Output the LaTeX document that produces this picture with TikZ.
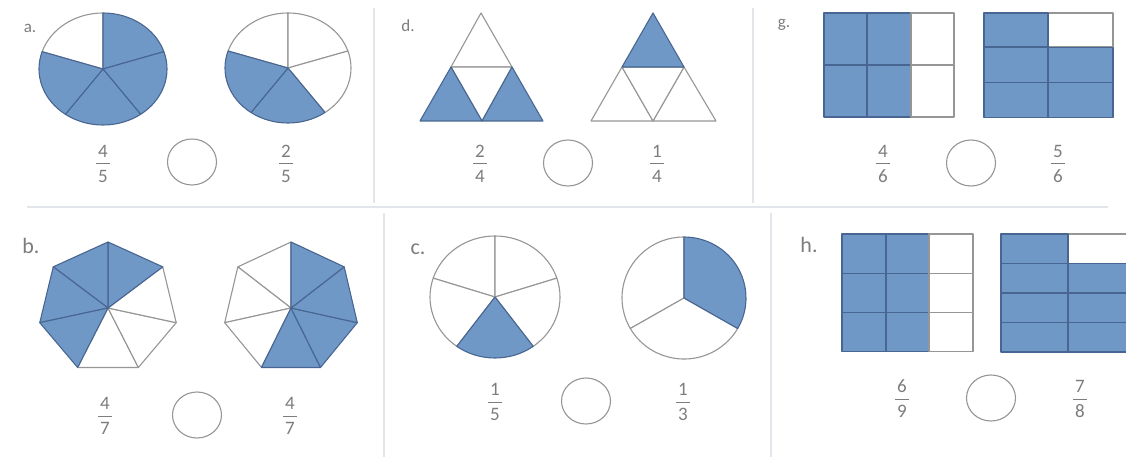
\documentclass[tikz,border=0pt]{standalone}
\usepackage{fontspec}
\setmainfont{Carlito}
\usetikzlibrary{shapes.geometric}
\definecolor{blueF}{RGB}{112,152,199}
\definecolor{blueD}{RGB}{72,102,145}
\definecolor{lineG}{RGB}{150,150,150}
\definecolor{txtG}{RGB}{125,125,125}
\definecolor{sepG}{RGB}{226,230,234}
\tikzset{
  wpart/.style={fill=white,draw=lineG,line width=1.1pt,line join=round},
  bpart/.style={fill=blueF,draw=blueD,line width=1.1pt,line join=round},
  sepline/.style={draw=sepG,line width=2pt},
  lbl/.style={text=txtG,font=\fontsize{17}{20}\selectfont,inner sep=0pt},
  lblb/.style={text=txtG,font=\fontsize{22}{26}\selectfont,inner sep=0pt},
  frnum/.style={text=txtG,font=\fontsize{19}{22}\selectfont,inner sep=0pt},
  frbar/.style={draw=txtG,line width=1pt},
  cmp/.style={ellipse,draw=lineG,line width=1.1pt,inner sep=0pt,minimum width=49pt,minimum height=46pt}
}
% style, cx, cy, rx, ry, start angle, end angle
\newcommand\pslice[7]{\path[#1] (#2,#3) -- ++(#6:#4pt and #5pt) arc[start angle=#6,end angle=#7,x radius=#4pt,y radius=#5pt] -- cycle;}
% name, x, y, numerator, denominator
\newcommand\fracat[5]{%
  \node[frnum] (#1n) at (#2,#3+12.5) {#4};
  \draw[frbar] (#2-7,#3) -- (#2+7,#3);
  \node[frnum] (#1d) at (#2,#3-12.5) {#5};}
\begin{document}
\begin{tikzpicture}[x=1pt,y=1pt]
\useasboundingbox (0,0) rectangle (1126,-457);
\fill[white] (0,0) rectangle (1126,-457);
% separators
\draw[sepline] (27,-207) -- (1108,-207);
\draw[sepline] (374,-8) -- (374,-203);
\draw[sepline] (753,-8) -- (753,-203);
\draw[sepline] (384,-213) -- (384,-457);
\draw[sepline] (771,-213) -- (771,-457);

% ===== a =====
\node[lbl] (la) at (30,-28) {a.};
\pslice{wpart}{103}{-69}{64}{56}{90}{162}
\pslice{bpart}{103}{-69}{64}{56}{18}{90}
\pslice{bpart}{103}{-69}{64}{56}{-54}{18}
\pslice{bpart}{103}{-69}{64}{56}{-126}{-54}
\pslice{bpart}{103}{-69}{64}{56}{162}{234}
\pslice{wpart}{288}{-68}{63}{55}{90}{162}
\pslice{wpart}{288}{-68}{63}{55}{18}{90}
\pslice{wpart}{288}{-68}{63}{55}{-54}{18}
\pslice{bpart}{288}{-68}{63}{55}{-126}{-54}
\pslice{bpart}{288}{-68}{63}{55}{162}{234}
\fracat{fa1}{103}{-164}{4}{5}
\node[cmp] (ca) at (192,-162) {};
\fracat{fa2}{286}{-164}{2}{5}

% ===== d =====
\node[lbl] (ld) at (408,-26) {d.};
\path[wpart] (481,-13) -- (512,-67) -- (451,-67) -- cycle;
\path[wpart] (451,-67) -- (512,-67) -- (482,-121) -- cycle;
\path[bpart] (451,-67) -- (482,-121) -- (420,-121) -- cycle;
\path[bpart] (512,-67) -- (543,-121) -- (482,-121) -- cycle;
\path[wpart] (622,-67) -- (653,-121) -- (591,-121) -- cycle;
\path[wpart] (684,-67) -- (716,-121) -- (653,-121) -- cycle;
\path[wpart] (622,-67) -- (684,-67) -- (653,-121) -- cycle;
\path[bpart] (653,-13) -- (684,-67) -- (622,-67) -- cycle;
\fracat{fd1}{480}{-164}{2}{4}
\node[cmp] (cd) at (568,-163) {};
\fracat{fd2}{657}{-164}{1}{4}

% ===== g =====
\node[lbl] (lg) at (784,-25) {g.};
\foreach \r in {0,1}{
  \path[bpart] (824,-13-52*\r) rectangle (867,-65-52*\r);
  \path[bpart] (867,-13-52*\r) rectangle (911,-65-52*\r);
  \path[wpart] (911,-13-52*\r) rectangle (954,-65-52*\r);
}
\path[wpart] (1048,-13) rectangle (1113,-47);
\path[bpart] (984,-13) rectangle (1048,-47);
\foreach \r in {1,2}{
  \path[bpart] (984,-13-34.7*\r) rectangle (1048,-47.7-34.7*\r);
  \path[bpart] (1048,-13-34.7*\r) rectangle (1113,-47.7-34.7*\r);
}
\fracat{fg1}{883}{-164}{4}{6}
\node[cmp] (cg) at (971,-163) {};
\fracat{fg2}{1058}{-164}{5}{6}

% ===== b =====
\node[lblb] (lb) at (31,-246) {b.};
\foreach \k in {3,4,5}{
  \path[wpart] (108,-308) -- +(90+51.4286*\k:70pt and 66pt) -- +(90+51.4286*\k+51.4286:70pt and 66pt) -- cycle;
}
\foreach \k in {-1,0,1,2}{
  \path[bpart] (108,-308) -- +(90+51.4286*\k:70pt and 66pt) -- +(90+51.4286*\k+51.4286:70pt and 66pt) -- cycle;
}
\foreach \k in {0,1,2}{
  \path[wpart] (291,-308) -- +(90+51.4286*\k:68pt and 66pt) -- +(90+51.4286*\k+51.4286:68pt and 66pt) -- cycle;
}
\foreach \k in {3,4,5,6}{
  \path[bpart] (291,-308) -- +(90+51.4286*\k:68pt and 66pt) -- +(90+51.4286*\k+51.4286:68pt and 66pt) -- cycle;
}
\fracat{fb1}{105}{-416}{4}{7}
\node[cmp] (cb) at (197,-415) {};
\fracat{fb2}{290}{-416}{4}{7}

% ===== c =====
\node[lblb] (lc) at (418,-249) {c.};
\pslice{wpart}{495}{-297}{65}{61}{90}{162}
\pslice{wpart}{495}{-297}{65}{61}{18}{90}
\pslice{wpart}{495}{-297}{65}{61}{-54}{18}
\pslice{wpart}{495}{-297}{65}{61}{162}{234}
\pslice{bpart}{495}{-297}{65}{61}{-126}{-54}
\pslice{wpart}{684}{-298}{62}{61}{90}{210}
\pslice{wpart}{684}{-298}{62}{61}{210}{330}
\pslice{bpart}{684}{-298}{62}{61}{-30}{90}
\fracat{fc1}{495}{-402}{1}{5}
\node[cmp] (cc) at (586,-401) {};
\fracat{fc2}{683}{-402}{1}{3}

% ===== h =====
\node[lblb] (lh) at (809,-245) {h.};
\foreach \r in {0,1,2}{
  \path[bpart] (842,-234-39.3*\r) rectangle (886,-273.3-39.3*\r);
  \path[bpart] (886,-234-39.3*\r) rectangle (929,-273.3-39.3*\r);
  \path[wpart] (929,-234-39.3*\r) rectangle (973,-273.3-39.3*\r);
}
\path[wpart] (1068,-234) rectangle (1136,-263.5);
\path[bpart] (1001,-234) rectangle (1068,-263.5);
\foreach \r in {1,2,3}{
  \path[bpart] (1001,-234-29.5*\r) rectangle (1068,-263.5-29.5*\r);
  \path[bpart] (1068,-234-29.5*\r) rectangle (1136,-263.5-29.5*\r);
}
\fracat{fh1}{902}{-399}{6}{9}
\node[cmp] (ch) at (991,-398) {};
\fracat{fh2}{1080}{-399}{7}{8}
\end{tikzpicture}
\end{document}
